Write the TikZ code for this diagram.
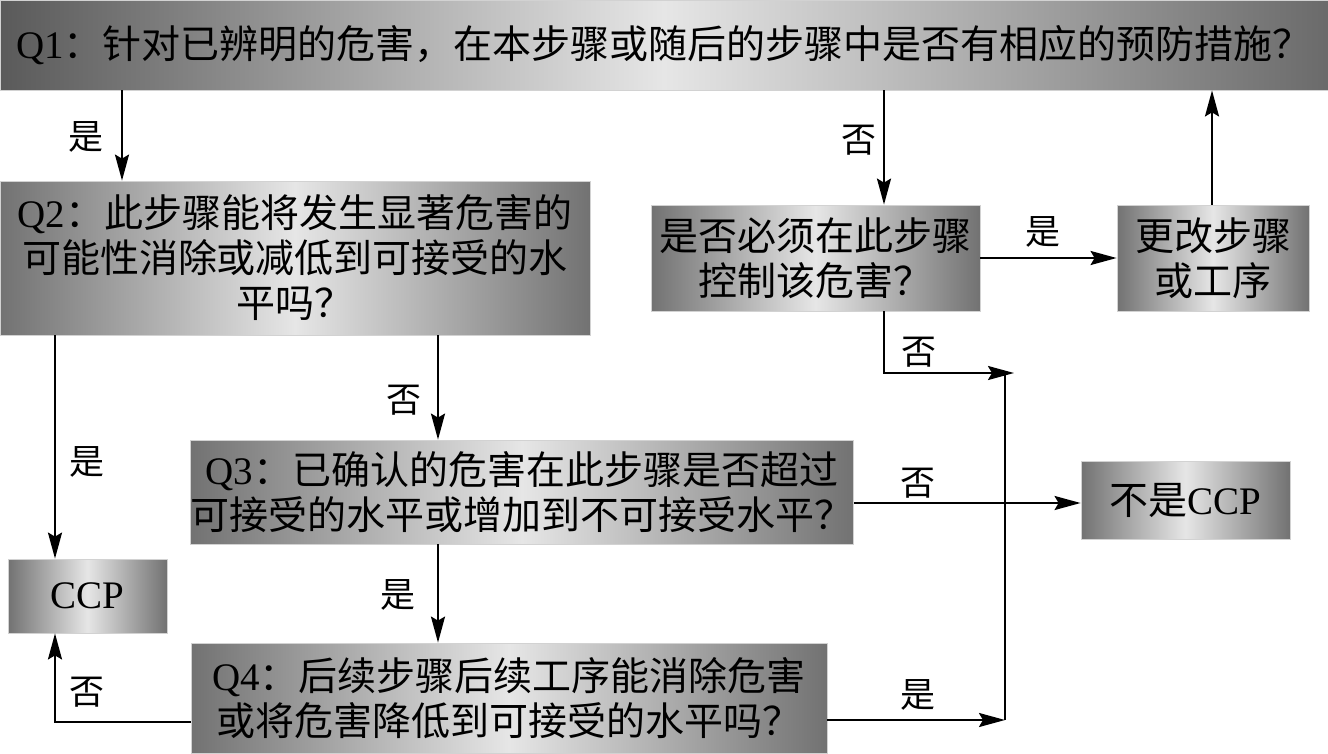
\documentclass[tikz,border=0pt]{standalone}
\usepackage{fontspec}
\setmainfont{Liberation Serif}
\newfontfamily\cjk{Noto Sans CJK SC}
\newfontfamily\lat{Liberation Serif}
\usetikzlibrary{arrows.meta,calc}
\definecolor{edge}{HTML}{727272}
\definecolor{edgeA}{HTML}{5A5A5A}
\definecolor{mid}{HTML}{E6E6E6}
\tikzset{
  box/.style={rectangle, draw=gray!35, line width=0.8pt, left color=edge, right color=edge, middle color=mid,
    inner sep=0pt, align=center, font=\cjk\fontsize{39}{45}\selectfont, text=black},
  topbox/.style={box, left color=edgeA, right color=edgeA!90!white, middle color=mid},
  arr/.style={line width=2.3pt, -{Stealth[length=26pt,width=14pt,inset=4pt]}},
  ln/.style={line width=2.3pt},
  lab/.style={font=\cjk\fontsize{35}{38}\selectfont, inner sep=0pt}
}
\begin{document}
\begin{tikzpicture}[x=1pt,y=-1pt]
\useasboundingbox (0,0) rectangle (1328,753);
\fill[white] (0,0) rectangle (1328,753);
% boxes
\node[topbox, minimum width=1328pt, minimum height=90pt] (q1) at (664,45) {{\lat Q1}：针对已辨明的危害，在本步骤或随后的步骤中是否有相应的预防措施？};
\node[box, minimum width=590pt, minimum height=154pt, text width=575pt] (q2) at (295,258) {{\lat Q2}：此步骤能将发生显著危害的\\可能性消除或减低到可接受的水\\平吗？};
\node[box, minimum width=662pt, minimum height=104pt] (q3) at (522,492) {{\lat Q3}：已确认的危害在此步骤是否超过\\可接受的水平或增加到不可接受水平？};
\node[box, minimum width=636pt, minimum height=110pt] (q4) at (509,698) {{\lat Q4}：后续步骤后续工序能消除危害\\或将危害降低到可接受的水平吗？};
\node[box, minimum width=159pt, minimum height=74pt] (ccp) at (87.5,596) {\lat CCP};
\node[box, minimum width=329pt, minimum height=106pt] (must) at (815.5,258) {是否必须在此步骤\\控制该危害？};
\node[box, minimum width=192pt, minimum height=106pt] (change) at (1213,258) {更改步骤\\或工序};
\node[box, minimum width=209pt, minimum height=78pt] (notccp) at (1185.5,500) {不是{\lat CCP}};
% helper coordinates
\coordinate (xa) at (122,0);
\coordinate (xb) at (884,0);
\coordinate (xc) at (1212,0);
\coordinate (xd) at (55,0);
\coordinate (xe) at (438,0);
\coordinate (vtop) at (1005,373);
\coordinate (vbot) at (1005,720);
\coordinate (jtip) at (1014,373);
\coordinate (ya) at (0,503);
\coordinate (yb) at (0,720);
\coordinate (yc) at (0,722);
% connectors
\draw[arr] (q1.south -| xa) -- (q2.north -| xa);
\draw[arr] (q1.south -| xb) -- (must.north -| xb);
\draw[arr] (change.north -| xc) -- (q1.south -| xc);
\draw[arr] (must.east) -- (change.west);
\draw[arr] (must.south -| xb) |- (jtip);
\draw[ln] (vtop) -- (vbot);
\draw[arr] (q4.east |- yb) -- (vbot);
\draw[arr] (q3.east |- ya) -- (notccp.west |- ya);
\draw[arr] (q2.south -| xd) -- (ccp.north -| xd);
\draw[arr] (q2.south -| xe) -- (q3.north -| xe);
\draw[arr] (q3.south -| xe) -- (q4.north -| xe);
\draw[arr] (q4.west |- yc) -| (ccp.south -| xd);
% labels
\node[lab] (l1) at (86,137) {是};
\node[lab] (l2) at (859,140) {否};
\node[lab] (l3) at (1043,232) {是};
\node[lab] (l4) at (919,352) {否};
\node[lab] (l5) at (918,483) {否};
\node[lab] (l6) at (918,695) {是};
\node[lab] (l7) at (87,462) {是};
\node[lab] (l8) at (404,400) {否};
\node[lab] (l9) at (398,595) {是};
\node[lab] (l10) at (87,692) {否};
\end{tikzpicture}
\end{document}
